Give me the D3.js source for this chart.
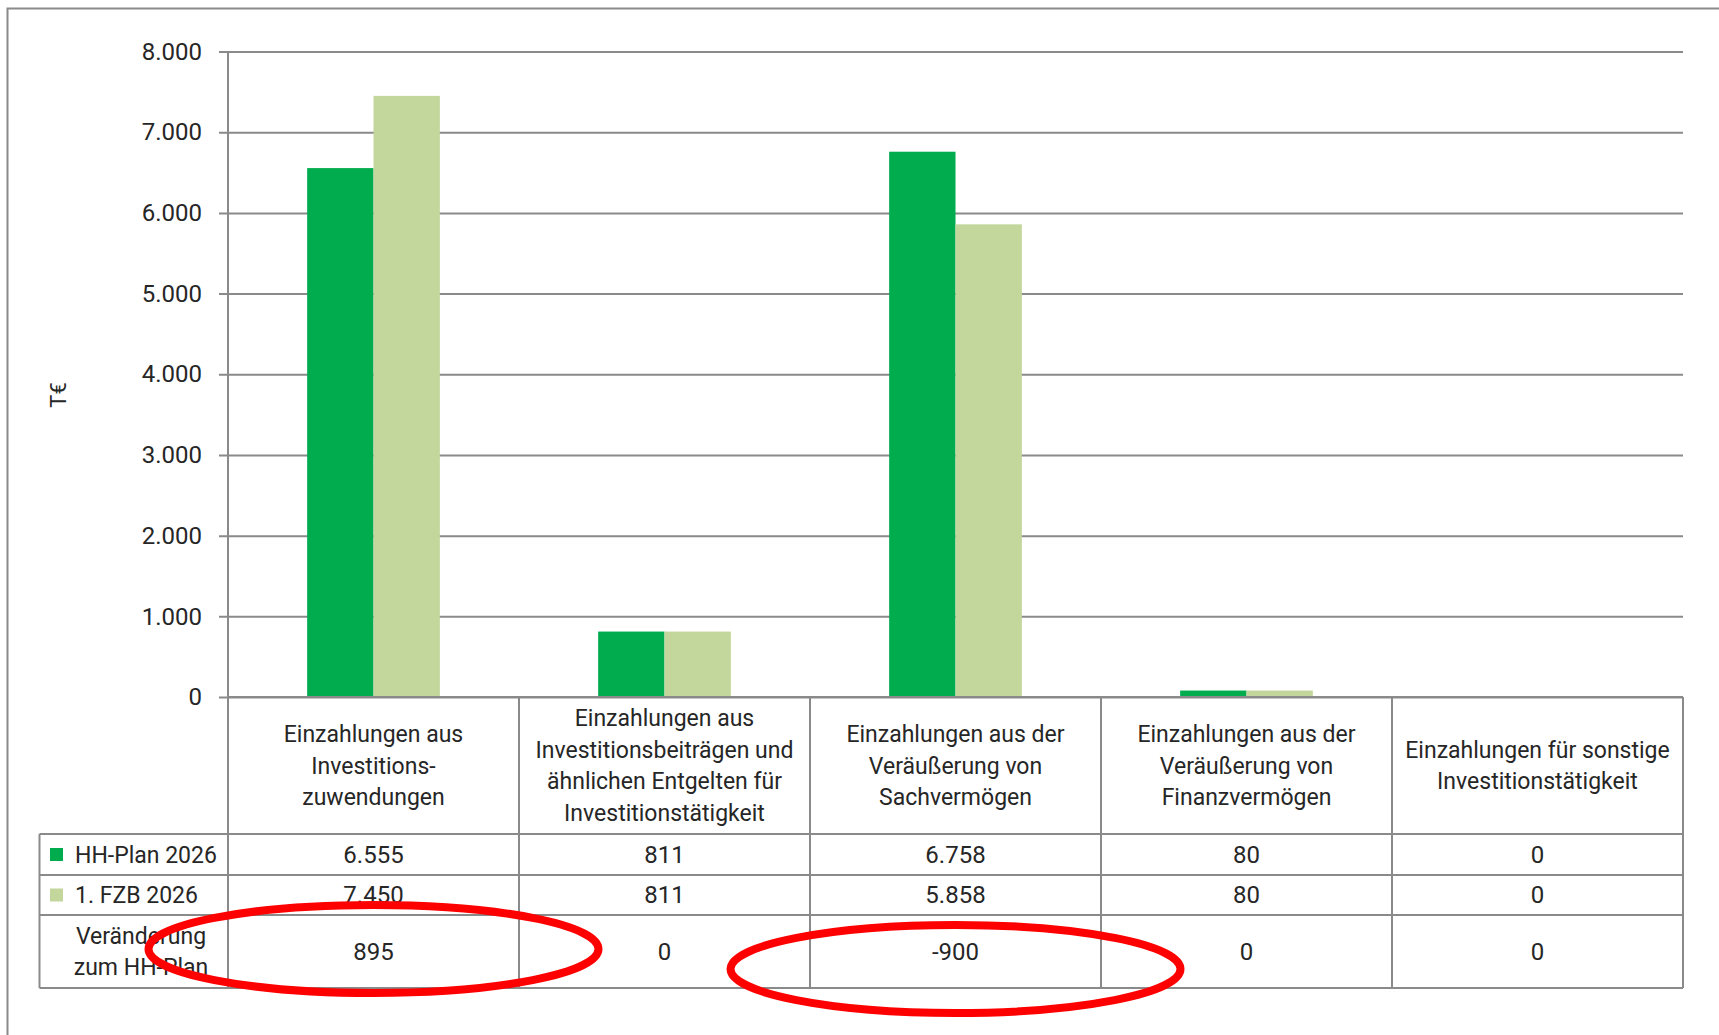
<!DOCTYPE html>
<html>
<head>
<meta charset="utf-8">
<script src="https://cdn.jsdelivr.net/npm/d3@7"></script>
<style>
  body { margin: 0; background: #fff; }
  svg text { font-family: Roboto, "DejaVu Sans", sans-serif; fill: #262626; }
</style>
</head>
<body>
<div id="chart"></div>
<script>
// data
var categories = [
  ["Einzahlungen aus", "Investitions-", "zuwendungen"],
  ["Einzahlungen aus", "Investitionsbeiträgen und", "ähnlichen Entgelten für", "Investitionstätigkeit"],
  ["Einzahlungen aus der", "Veräußerung von", "Sachvermögen"],
  ["Einzahlungen aus der", "Veräußerung von", "Finanzvermögen"],
  ["Einzahlungen für sonstige", "Investitionstätigkeit"]
];
var seriesNames = ["HH-Plan 2026", "1. FZB 2026"];
var hhPlan = [6555, 811, 6758, 80, 0];
var fzb = [7450, 811, 5858, 80, 0];
var change = [895, 0, -900, 0, 0];
var yTicks = [0, 1000, 2000, 3000, 4000, 5000, 6000, 7000, 8000];

var colors = ["#00AC4E", "#C3D69B"];
var grey = "#8a8a8a";
var fs = 23;

var W = 1719, H = 1035;
var plotLeft = 228, plotRight = 1683, plotTop = 51.5, zeroY = 697;
var tableLeft = 39.5;
var rowY = [697, 834, 875, 915, 988];

var de = d3.formatLocale({decimal: ",", thousands: ".", grouping: [3], currency: ["", " €"], minus: "-"});
var fmt = de.format(",d");

var svg = d3.select("#chart").append("svg")
  .attr("width", W)
  .attr("height", H);

// outer frame (runs off the page at right and bottom)
svg.append("rect")
  .attr("x", 7.5).attr("y", 8.5)
  .attr("width", W + 20).attr("height", H + 20)
  .attr("fill", "none").attr("stroke", grey).attr("stroke-width", 2);

var x = d3.scaleBand().domain(d3.range(categories.length)).range([plotLeft, plotRight]).padding(0);
var bw = x.bandwidth();
var xs = d3.scaleBand().domain([0, 1]).range([bw * 0.272, bw * 0.728]).padding(0);
var y = d3.scaleLinear().domain([0, 8000]).range([zeroY, plotTop]);

// gridlines + tick labels
var yAxis = svg.append("g")
  .attr("transform", "translate(219,0)")
  .call(d3.axisLeft(y).tickValues(yTicks).tickFormat(fmt).tickSize(-(plotRight - 219)).tickPadding(17));
yAxis.select(".domain").remove();
yAxis.selectAll(".tick line").attr("stroke", grey).attr("stroke-width", 2);
yAxis.attr("font-family", null).attr("font-size", null);
yAxis.selectAll(".tick text").attr("font-size", fs + 1).attr("fill", "#262626");

// y unit label
svg.append("text")
  .attr("transform", "translate(66,395) rotate(-90)")
  .attr("text-anchor", "middle")
  .attr("font-size", 22)
  .text("T€");

// bars
var series = [hhPlan, fzb];
series.forEach(function(vals, s) {
  svg.append("g").selectAll("rect")
    .data(vals)
    .join("rect")
    .attr("x", function(d, i) { return x(i) + xs(s); })
    .attr("y", function(d) { return y(Math.max(d, 0)); })
    .attr("width", xs.bandwidth())
    .attr("height", function(d) { return Math.abs(y(d) - y(0)); })
    .attr("fill", colors[s]);
});

// data table
var tbl = svg.append("g").attr("stroke", grey).attr("stroke-width", 2).attr("fill", "none");
tbl.append("line").attr("x1", plotLeft).attr("x2", plotLeft).attr("y1", plotTop).attr("y2", rowY[4]);
rowY.forEach(function(ry, i) {
  tbl.append("line")
    .attr("x1", i === 0 ? plotLeft : tableLeft).attr("x2", plotRight)
    .attr("y1", ry).attr("y2", ry);
});
tbl.append("line").attr("x1", tableLeft).attr("x2", tableLeft).attr("y1", rowY[1]).attr("y2", rowY[4]);
d3.range(1, categories.length + 1).forEach(function(i) {
  var xx = i < categories.length ? x(i) : plotRight;
  tbl.append("line").attr("x1", xx).attr("x2", xx).attr("y1", rowY[0]).attr("y2", rowY[4]);
});

var lineH = 31.8;
function multiline(g, lines, cx, cy) {
  var t = g.append("text")
    .attr("text-anchor", "middle")
    .attr("font-size", fs);
  lines.forEach(function(l, k) {
    t.append("tspan")
      .attr("x", cx)
      .attr("y", cy + (k - (lines.length - 1) / 2) * lineH)
      .attr("dy", "0.35em")
      .text(l);
  });
}

var txt = svg.append("g");
categories.forEach(function(c, i) {
  multiline(txt, c, x(i) + bw / 2, (rowY[0] + rowY[1]) / 2);
});

var rows = [hhPlan, fzb, change];
rows.forEach(function(vals, r) {
  var cy = (rowY[r + 1] + rowY[r + 2]) / 2;
  vals.forEach(function(v, i) {
    txt.append("text")
      .attr("x", x(i) + bw / 2)
      .attr("y", cy)
      .attr("dy", "0.35em")
      .attr("text-anchor", "middle")
      .attr("font-size", fs + 1)
      .text(fmt(v));
  });
});

// row labels with legend keys
seriesNames.forEach(function(n, s) {
  var cy = (rowY[s + 1] + rowY[s + 2]) / 2;
  svg.append("rect")
    .attr("x", 50).attr("y", cy - 6.5)
    .attr("width", 13).attr("height", 13)
    .attr("fill", colors[s]);
  txt.append("text")
    .attr("x", 75).attr("y", cy).attr("dy", "0.35em")
    .attr("font-size", fs)
    .text(n);
});
multiline(txt, ["Veränderung", "zum HH-Plan"], 141, (rowY[3] + rowY[4]) / 2);

// red highlight ellipses
[0, 2].forEach(function(i, k) {
  svg.append("ellipse")
    .attr("cx", x(i) + bw / 2)
    .attr("cy", k === 0 ? 949 : 969)
    .attr("rx", 225).attr("ry", 44)
    .attr("fill", "none")
    .attr("stroke", "#ff0000")
    .attr("stroke-width", 8);
});
</script>
</body>
</html>
